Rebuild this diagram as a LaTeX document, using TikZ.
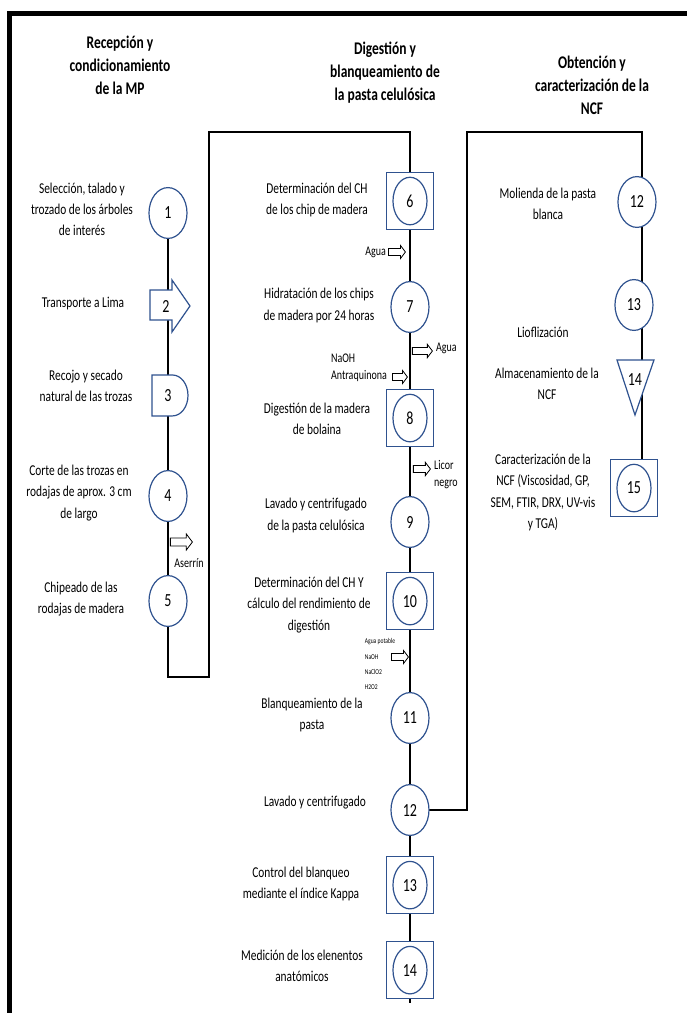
\documentclass[tikz,border=0pt]{standalone}
\usepackage{fontspec}
\setmainfont{Carlito}
\usetikzlibrary{shapes,arrows,positioning,calc,backgrounds}

\definecolor{opblue}{RGB}{47,82,143}

\tikzset{
  opcirc/.style={ellipse, draw=opblue, line width=1.2pt, fill=white, minimum width=38pt, minimum height=38.5pt, inner sep=0pt, font=\fontsize{14}{14}\selectfont},
  incirc/.style={opcirc, minimum width=34pt, minimum height=36pt},
  chkbox/.style={rectangle, draw=opblue, line width=1.2pt, fill=white, minimum width=47pt, minimum height=43.2pt, inner sep=0pt},
  opshape/.style={draw=opblue, line width=1.2pt, fill=white},
  tag/.style={inner sep=0pt, font=\fontsize{14}{14}\selectfont},
  desc/.style={align=center, font=\fontsize{11.4}{16}\selectfont},
  head/.style={align=center, font=\bfseries\fontsize{13.5}{17.4}\selectfont},
  sm/.style={align=left, font=\fontsize{10}{13}\selectfont, inner sep=1pt},
  tiny/.style={align=left, font=\fontsize{5.6}{11.4}\selectfont, inner sep=1pt},
  sidearr/.style={single arrow, draw, fill=white, line width=0.8pt, inner xsep=0pt, inner ysep=2.3pt, minimum height=18pt, single arrow head extend=2.3pt},
  flow/.style={line width=2.2pt},
  frame/.style={line width=5pt}
}

\begin{document}
\begin{tikzpicture}[x=1pt, y=0.7576pt, yscale=1.32, transform shape]
    \useasboundingbox (0,0) rectangle (687,-1013);
    \draw[frame] (9.5,-1013) -- (9.5,-14) -- (687,-14);

    % Recepcion y condicionamiento
    \node[head] (h1) at (120,-65.5) {Recepción y\\condicionamiento\\de la MP};
    \draw[opshape] (150,-290) -- (172,-290) -- (172,-280) -- (190,-306) -- (172,-332) -- (172,-320) -- (150,-320) -- cycle;
    \draw[opshape] (152,-375) -- (172.5,-375) arc[start angle=90, end angle=-90, radius=15.5pt] -- (152,-416) -- cycle;
    \node[opcirc] (c1) at (168,-213) {1};
    \node[tag, minimum height=22.7pt] (c2) at (166,-307) {2};
    \node[tag, minimum height=31pt] (c3) at (168,-395.5) {3};
    \node[opcirc] (c4) at (168,-496) {4};
    \node[opcirc] (c5) at (168,-601) {5};
    \node[desc] (l1) at (82,-209) {Selección, talado y\\trozado de los árboles\\de interés};
    \node[desc] (l2) at (83,-304) {Transporte a Lima};
    \node[desc] (l3) at (86,-386) {Recojo y secado\\natural de las trozas};
    \node[desc] (l4) at (79,-493) {Corte de las trozas en\\rodajas de aprox. 3 cm\\de largo};
    \node[desc] (l5) at (81,-599) {Chipeado de las\\rodajas de madera};
    \node[sidearr, anchor=tail, minimum height=22pt, inner ysep=2.7pt, single arrow head extend=3pt] (s1) at (170,-542) {};
    \node[sm] (t1) at (189,-563) {Aserrín};

    % Digestion y blanqueamiento
    \node[head] (h2) at (385,-72.5) {Digestión y\\blanqueamiento de\\la pasta celulósica};
    \node[chkbox] (c6) at (410,-201) {};
    \node[incirc] (i6) at (c6) {6};
    \node[opcirc] (c7) at (410,-307) {7};
    \node[chkbox] (c8) at (410,-418) {};
    \node[incirc] (i8) at (c8) {8};
    \node[opcirc] (c9) at (410,-522) {9};
    \node[chkbox] (c10) at (410,-601) {};
    \node[incirc] (i10) at (c10) {10};
    \node[opcirc] (c11) at (410,-718) {11};
    \node[opcirc] (c12) at (410,-810) {12};
    \node[chkbox] (c13) at (410,-885) {};
    \node[incirc] (i13) at (c13) {13};
    \node[chkbox] (c14) at (410,-970) {};
    \node[incirc] (i14) at (c14) {14};
    \node[desc] (l6) at (317,-200) {Determinación del CH\\de los chip de madera};
    \node[desc] (l7) at (319,-305.5) {Hidratación de los chips\\de madera por 24 horas};
    \node[desc] (l8) at (317,-419) {Digestión de la madera\\de bolaina};
    \node[desc] (l9) at (316,-515.5) {Lavado y centrifugado\\de la pasta celulósica};
    \node[desc] (l10) at (309,-605) {Determinación del CH Y\\cálculo del rendimiento de\\digestión};
    \node[desc] (l11) at (312,-715) {Blanqueamiento de la\\pasta};
    \node[desc] (l12) at (315,-803) {Lavado y centrifugado};
    \node[desc] (l13) at (301,-884) {Control del blanqueo\\mediante el índice Kappa};
    \node[desc] (l14) at (302,-966) {Medición de los elenentos\\anatómicos};
    \node[sidearr, anchor=tip, minimum height=17pt] (s2) at (406,-252) {};
    \node[sm, left=1pt of s2] (t2) {Agua};
    \node[sidearr, anchor=tail, minimum height=20pt] (s3) at (412,-351) {};
    \node[sm, right=2pt of s3, yshift=2pt] (t3) {Agua};
    \node[sidearr, anchor=tip, minimum height=15pt] (s4) at (408,-377) {};
    \node[sm] (t4) at (359,-368) {NaOH\\Antraquinona};
    \node[sidearr, anchor=tail, minimum height=17pt] (s5) at (413,-469) {};
    \node[sm, right=2pt of s5, yshift=-4pt] (t5) {Licor\\negro};
    \node[sidearr, anchor=tip, minimum height=17pt] (s6) at (409,-657) {};
    \node[tiny] (t6) at (380,-664) {Agua potable\\NaOH\\NaClO2\\H2O2};

    % Obtencion y caracterizacion de la NCF
    \node[head] (h3) at (592,-85.5) {Obtención y\\caracterización de la\\NCF};
    \draw[opshape] (617,-360) -- (654,-360) -- (635,-415) -- cycle;
    \node[opcirc] (k12) at (637,-202) {12};
    \node[opcirc] (k13) at (634,-305) {13};
    \node[tag] (k14) at (635,-380) {14};
    \node[chkbox] (k15) at (634,-488) {};
    \node[incirc] (i15) at (k15) {15};
    \node[desc] (m12) at (548,-204) {Molienda de la pasta\\blanca};
    \node[desc] (m13) at (543,-332) {Lioflización};
    \node[desc] (m14) at (547,-384) {Almacenamiento de la\\NCF};
    \node[desc] (m15) at (543,-492.5) {Caracterización de la\\NCF (Viscosidad, GP,\\SEM, FTIR, DRX, UV-vis\\y TGA)};

    % connectors
    \begin{scope}[on background layer]
        \coordinate (lo1) at (209,-677);
        \coordinate (up1) at (209,-132);
        \coordinate (up2) at (467,-132);
        \draw[flow] (c1.center) -- (c5.center);
        \draw[flow] (c5.center) |- (lo1) -- (up1) -| (c6.center);
        \draw[flow] (c6.center) -- ([yshift=-3pt]c14.south);
        \draw[flow] (c12.center) -| (up2) -| ([xshift=5pt]k12.center);
        \draw[flow] ([xshift=5pt]k12.center) -- ([xshift=5pt]k12.center |- k15.center);
    \end{scope}
\end{tikzpicture}
\end{document}
